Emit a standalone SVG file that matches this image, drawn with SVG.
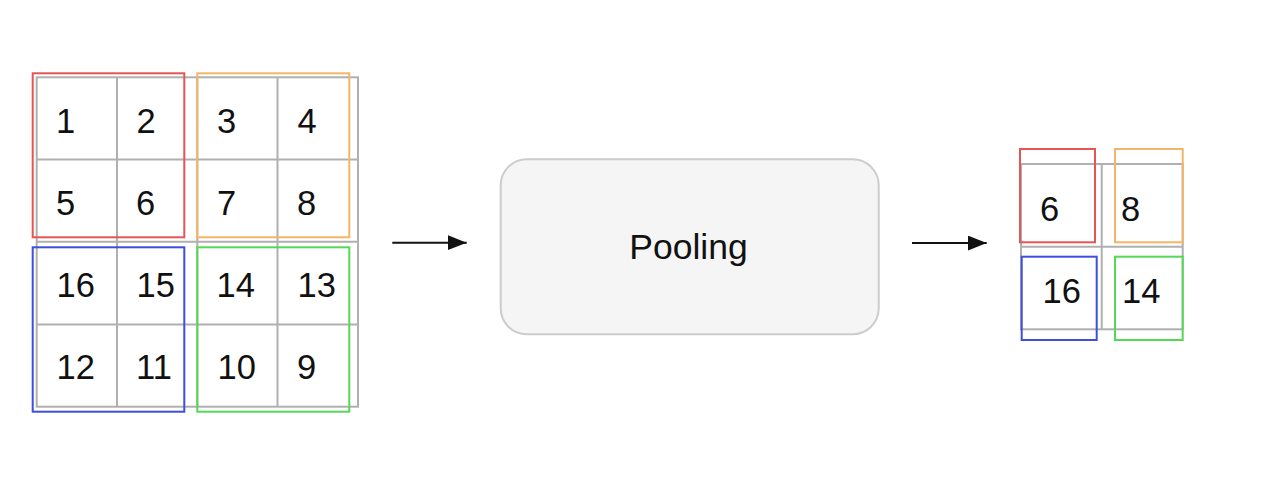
<svg xmlns="http://www.w3.org/2000/svg" width="1267" height="495" viewBox="0 0 1267 495">
<style>
.grid{fill:none;stroke:#b0b0b0;stroke-width:2}
.num{font-family:"Liberation Sans",Arial,sans-serif;font-size:34.5px;fill:#111}
.win{fill:none;stroke-width:2}
.red{stroke:#e65555}
.orange{stroke:#f5b466}
.blue{stroke:#3d4fdc}
.green{stroke:#55d955}
.conn{stroke:#111;stroke-width:2;fill:none}
</style>
<defs>
<marker id="arr" markerUnits="userSpaceOnUse" markerWidth="20" markerHeight="16" refX="19" refY="7.5" orient="auto">
<path d="M0,0 L19,7.5 L0,15 Z" fill="#111"/>
</marker>
</defs>
<rect width="1267" height="495" fill="#fff"/>
<g id="input-grid">
<rect class="grid" x="36.7" y="77.3" width="321.3" height="329.4"/>
<path class="grid" d="M117,77.3V406.7M197.3,77.3V406.7M277.5,77.3V406.7M36.7,159.5H358M36.7,241.7H358M36.7,324.5H358"/>
<text class="num" x="56" y="132.7">1</text>
<text class="num" x="136.5" y="132.7">2</text>
<text class="num" x="217" y="132.7">3</text>
<text class="num" x="297.5" y="132.7">4</text>
<text class="num" x="56" y="214.5">5</text>
<text class="num" x="136" y="214.5">6</text>
<text class="num" x="217" y="214.5">7</text>
<text class="num" x="297" y="214.5">8</text>
<text class="num" x="56.5" y="297">16</text>
<text class="num" x="136.5" y="297">15</text>
<text class="num" x="216.5" y="297">14</text>
<text class="num" x="297.5" y="297">13</text>
<text class="num" x="56.5" y="379">12</text>
<text class="num" x="136" y="379">11</text>
<text class="num" x="217.5" y="379">10</text>
<text class="num" x="297" y="379">9</text>
<rect class="win red" x="32.7" y="73.3" width="151.6" height="164"/>
<rect class="win orange" x="197.3" y="73.3" width="152" height="164"/>
<rect class="win blue" x="32.7" y="247.3" width="151.6" height="164.4"/>
<rect class="win green" x="197.3" y="247.3" width="152" height="164.4"/>
</g>
<g id="pooling">
<rect x="500.7" y="159.3" width="378" height="175" rx="26" ry="26" fill="#f5f5f5" stroke="#cccccc" stroke-width="2"/>
<text class="num" x="688.5" y="259.3" text-anchor="middle" style="font-size:35.5px">Pooling</text>
</g>
<g id="output-grid">
<rect class="grid" x="1021" y="164" width="161.7" height="165.3"/>
<path class="grid" d="M1101.7,164V329.3M1021,246.7H1182.7"/>
<text class="num" x="1040" y="220.7">6</text>
<text class="num" x="1121" y="220.7">8</text>
<text class="num" x="1042.5" y="302.7">16</text>
<text class="num" x="1122" y="302.7">14</text>
<rect class="win red" x="1020" y="149" width="75" height="93.3"/>
<rect class="win orange" x="1115" y="149" width="67.7" height="93.3"/>
<rect class="win blue" x="1021.7" y="256.7" width="75" height="83.3"/>
<rect class="win green" x="1115" y="256.7" width="67.7" height="83.3"/>
</g>
<g id="connectors">
<line class="conn" x1="392.3" y1="242.7" x2="466.7" y2="242.7" marker-end="url(#arr)"/>
<line class="conn" x1="912" y1="243" x2="986.7" y2="243" marker-end="url(#arr)"/>
</g>
</svg>
